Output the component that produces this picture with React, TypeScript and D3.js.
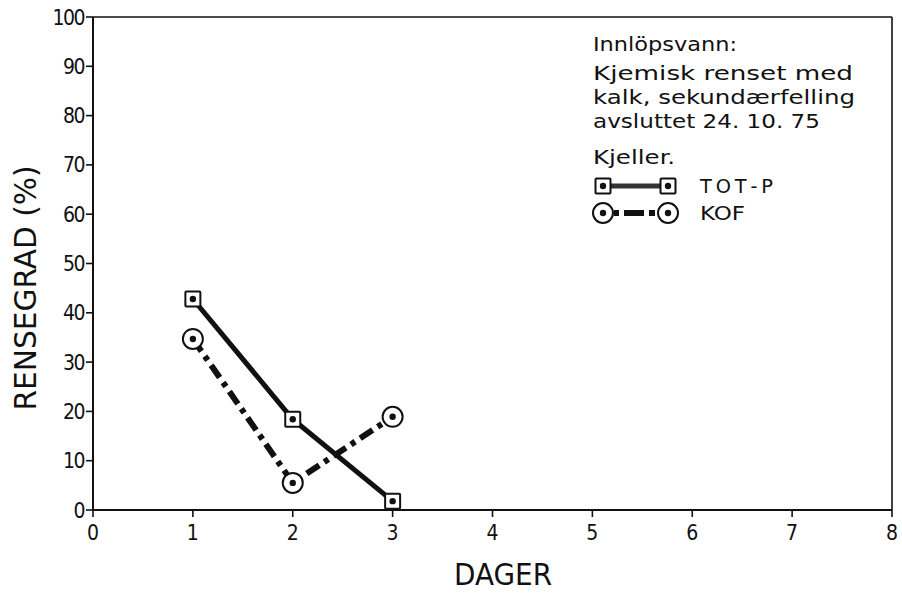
import React from "react";
import * as d3 from "d3";

const days = [1, 2, 3];
const totP = [42.8, 18.4, 1.8];
const kof = [34.7, 5.5, 18.9];
const xTicks = [0, 1, 2, 3, 4, 5, 6, 7, 8];
const yTicks = [0, 10, 20, 30, 40, 50, 60, 70, 80, 90, 100];
const noteLines = [
  "Innlöpsvann:",
  "Kjemisk  renset  med",
  "kalk, sekundærfelling",
  "avsluttet  24. 10. 75",
  "Kjeller.",
];
const seriesNames = ["TOT-P", "KOF"];

const W = 902;
const H = 594;
const FONT = "'DejaVu Sans Condensed', 'DejaVu Sans', sans-serif";

export default function App() {
  const x = d3.scaleLinear().domain([0, 8]).range([93, 892]);
  const y = d3.scaleLinear().domain([0, 100]).range([510, 17]);
  const line = d3
    .line<number>()
    .x((_, i) => x(days[i]))
    .y((d) => y(d));

  const noteY = [51, 80, 104, 128, 164];
  const noteLen = [144, 260, 262, 227, 82];

  const sq = (cx: number, cy: number, k: string) => (
    <g key={k}>
      <rect x={cx - 7.5} y={cy - 7.5} width={15} height={15} fill="#fff" stroke="#111" strokeWidth={2} rx={1} />
      <circle cx={cx} cy={cy} r={3.2} fill="#111" />
    </g>
  );
  const ci = (cx: number, cy: number, k: string) => (
    <g key={k}>
      <circle cx={cx} cy={cy} r={10} fill="#fff" stroke="#111" strokeWidth={2} />
      <circle cx={cx} cy={cy} r={3.2} fill="#111" />
    </g>
  );

  return (
    <svg
      width={W}
      height={H}
      style={{ position: "absolute", left: 0, top: 0, background: "#fff" }}
      fontFamily={FONT}
    >
      <rect x={0} y={0} width={W} height={H} fill="#fff" />
      {/* frame */}
      <line x1={x(0)} x2={x(8)} y1={y(100)} y2={y(100)} stroke="#111" strokeWidth={1.6} />
      <line x1={x(8)} x2={x(8)} y1={y(100)} y2={y(0)} stroke="#111" strokeWidth={1.6} />
      <line x1={x(0)} x2={x(0)} y1={y(100)} y2={y(0)} stroke="#111" strokeWidth={2} />
      <line x1={x(0)} x2={x(8)} y1={y(0)} y2={y(0)} stroke="#111" strokeWidth={2} />
      {/* y ticks */}
      {yTicks.map((t) => (
        <g key={"y" + t}>
          <line x1={x(0) - 7} x2={x(0)} y1={y(t)} y2={y(t)} stroke="#111" strokeWidth={1.6} />
          <text x={x(0) - 9} y={y(t)} dy="0.36em" textAnchor="end" fontSize={21} fill="#111" letterSpacing={-1.5}>
            {t}
          </text>
        </g>
      ))}
      {/* x ticks */}
      {xTicks.map((t) => (
        <g key={"x" + t}>
          <line x1={x(t)} x2={x(t)} y1={y(0)} y2={y(0) + 7} stroke="#111" strokeWidth={1.6} />
          <text x={x(t)} y={540} textAnchor="middle" fontSize={21} fill="#111">
            {t}
          </text>
        </g>
      ))}
      {/* axis titles */}
      <text x={503} y={585} textAnchor="middle" fontSize={30} fill="#111" textLength={98} lengthAdjust="spacingAndGlyphs">
        DAGER
      </text>
      <text
        transform="translate(36,288) rotate(-90)"
        textAnchor="middle"
        fontSize={31}
        fill="#111"
        textLength={245}
        lengthAdjust="spacingAndGlyphs"
      >
        RENSEGRAD (%)
      </text>
      {/* series lines */}
      <path d={line(totP) || ""} fill="none" stroke="#111" strokeWidth={5} strokeLinejoin="round" />
      <path d={line(kof) || ""} fill="none" stroke="#111" strokeWidth={6} strokeDasharray="15 6 5 6" />
      {totP.map((v, i) => sq(x(days[i]), y(v), "s" + i))}
      {kof.map((v, i) => ci(x(days[i]), y(v), "c" + i))}
      {/* notes */}
      {noteLines.map((t, i) => (
        <text
          key={"n" + i}
          x={593}
          y={noteY[i]}
          fontSize={19}
          fill="#111"
          textLength={noteLen[i]}
          lengthAdjust="spacingAndGlyphs"
        >
          {t}
        </text>
      ))}
      {/* legend */}
      <line x1={603} x2={668} y1={186} y2={186} stroke="#333" strokeWidth={5} />
      {sq(603, 186, "ls1")}
      {sq(668, 186, "ls2")}
      <text x={700} y={193} fontSize={19} fill="#111" textLength={73} lengthAdjust="spacingAndGlyphs">
        {seriesNames[0].replace("-", " - ").replace("TOT", "T O T").replace(/ /g, "\u2009")}
      </text>
      <line x1={603} x2={668} y1={213} y2={213} stroke="#111" strokeWidth={6} strokeDasharray="5 6 5 5 20" />
      {ci(603, 213, "lc1")}
      {ci(668, 213, "lc2")}
      <text x={700} y={220} fontSize={19} fill="#111" textLength={45} lengthAdjust="spacingAndGlyphs">
        {seriesNames[1]}
      </text>
    </svg>
  );
}
